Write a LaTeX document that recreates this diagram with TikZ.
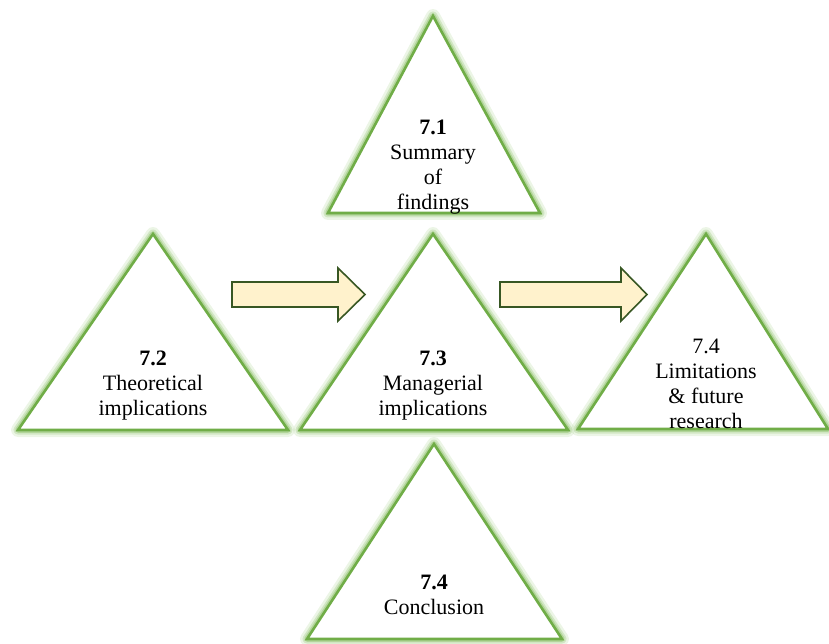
\documentclass[tikz,border=0pt]{standalone}
\usepackage{fontspec}
\setmainfont{Liberation Serif}
\begin{document}
\begin{tikzpicture}[x=1pt,y=-1pt,
  glowwide/.style={draw=glowgreen,line width=14pt,line join=round,opacity=0.22},
  glowmid/.style={draw=glowgreen,line width=9pt,line join=round,opacity=0.4},
  glownarrow/.style={draw=glowgreen!80!edgegreen,line width=5.5pt,line join=round,opacity=0.6},
  triedge/.style={draw=edgegreen,line width=2.6pt,line join=miter,fill=white},
  blockarrow/.style={draw=arrowedge,line width=1.6pt,fill=arrowfill,line join=miter},
  label/.style={align=center,font=\fontsize{22}{25}\selectfont,inner sep=0pt,text=black}]
\definecolor{edgegreen}{HTML}{70AD47}
\definecolor{glowgreen}{HTML}{A9D18E}
\definecolor{arrowfill}{HTML}{FFF2CC}
\definecolor{arrowedge}{HTML}{385723}
\useasboundingbox (0,0) rectangle (829,644);

% corner points of the five triangles: apex, base left, base right
\coordinate (t1a) at (433,16);  \coordinate (t1l) at (328,213); \coordinate (t1r) at (540,213);
\coordinate (t2a) at (153,234); \coordinate (t2l) at (18,430);  \coordinate (t2r) at (288,430);
\coordinate (t3a) at (433,234); \coordinate (t3l) at (300,430); \coordinate (t3r) at (568,430);
\coordinate (t4a) at (706,234); \coordinate (t4l) at (578,429); \coordinate (t4r) at (828,429);
\coordinate (t5a) at (434,444); \coordinate (t5l) at (307,639); \coordinate (t5r) at (562,639);

% soft green halo round every triangle
\foreach \t in {t1,t2,t3,t4,t5}{
  \path[glowwide] (\t a) -- (\t l) -- (\t r) -- cycle;
  \path[glowmid] (\t a) -- (\t l) -- (\t r) -- cycle;
  \path[glownarrow] (\t a) -- (\t l) -- (\t r) -- cycle;
}
% the triangles themselves
\foreach \t in {t1,t2,t3,t4,t5}{
  \path[triedge] (\t a) -- (\t l) -- (\t r) -- cycle;
}

% block arrows between the middle row
\path[blockarrow] (232,282) -- (338,282) -- (338,268) -- (365,294.5)
  -- (338,321) -- (338,307) -- (232,307) -- cycle;
\path[blockarrow] (500,282) -- (621,282) -- (621,268) -- (647,294.5)
  -- (621,321) -- (621,307) -- (500,307) -- cycle;

% labels
\node[label] (s1) at (433,167) {\textbf{7.1}\\Summary\\of\\findings};
\node[label] (s2) at (153,386) {\textbf{7.2}\\Theoretical\\implications};
\node[label] (s3) at (433,386) {\textbf{7.3}\\Managerial\\implications};
\node[label] (s4) at (706,384) {7.4\\Limitations\\\& future\\research};
\node[label] (s5) at (434,595) {\textbf{7.4}\\Conclusion};
\end{tikzpicture}
\end{document}
